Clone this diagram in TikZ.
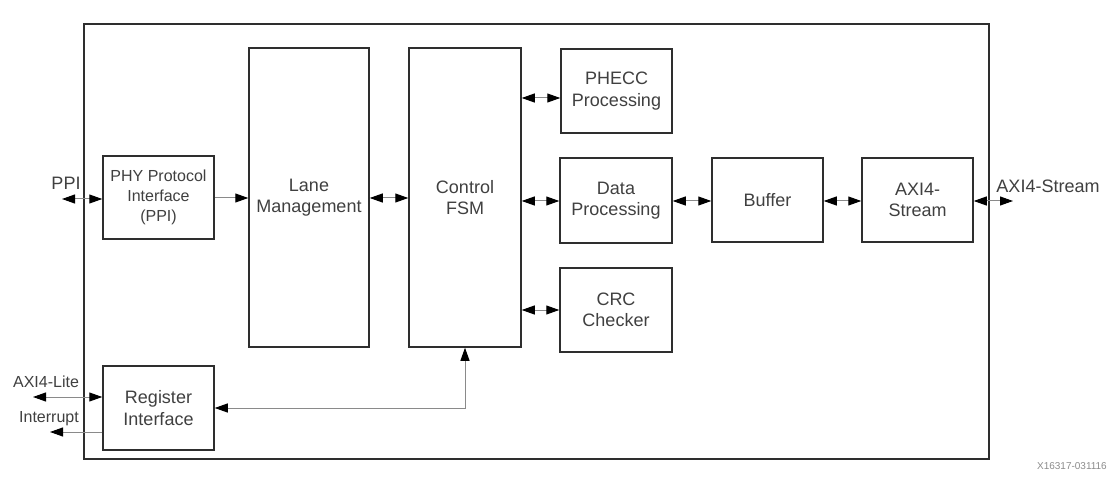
\documentclass[tikz,border=0pt]{standalone}
\usepackage{fontspec}
\setmainfont{Liberation Sans}
\usetikzlibrary{arrows.meta}
\definecolor{boxc}{HTML}{2E2E2E}
\definecolor{txtc}{HTML}{404040}
\definecolor{linec}{HTML}{8A8A8A}
\definecolor{footc}{HTML}{8C8C8C}
\begin{document}
\begin{tikzpicture}[x=1pt,y=-1pt,
  blk/.style={draw=boxc, line width=1.5pt, fill=white, inner sep=0pt, align=center,
    text=txtc, font=\fontsize{18}{21.5}\selectfont},
  smallblk/.style={blk, font=\fontsize{16}{20}\selectfont},
  lbl/.style={text=txtc, inner sep=0pt, font=\fontsize{18}{21}\selectfont},
  smalllbl/.style={text=txtc, inner sep=0pt, font=\fontsize{16}{19}\selectfont},
  conn/.style={draw=linec, line width=1pt,
    {Triangle[length=13pt,width=9pt,color=black]}-{Triangle[length=13pt,width=9pt,color=black]}},
  connr/.style={draw=linec, line width=1pt, -{Triangle[length=13pt,width=9pt,color=black]}},
  ]
\useasboundingbox (0,0) rectangle (1109,481);
\fill[white] (0,0) rectangle (1109,481);
% outer box
\node[draw=boxc, line width=1.5pt, minimum width=905pt, minimum height=435pt, inner sep=0pt] (outer) at (536.5,241.5) {};
% blocks
\node[smallblk, minimum width=111pt, minimum height=83pt] (ppi) at (158.5,197.5) {PHY Protocol\\Interface\\(PPI)};
\node[blk, minimum width=120pt, minimum height=299pt] (lane) at (309,197.5) {Lane\\Management};
\node[blk, minimum width=112pt, minimum height=299pt] (fsm) at (465,197.5) {Control\\FSM};
\node[blk, minimum width=111pt, minimum height=84pt] (phecc) at (616.5,91) {PHECC\\Processing};
\node[blk, minimum width=112pt, minimum height=85pt] (data) at (616,200.5) {Data\\Processing};
\node[blk, minimum width=112pt, minimum height=84pt] (crc) at (616,310) {CRC\\Checker};
\node[blk, minimum width=111pt, minimum height=84pt] (buf) at (767.5,200) {Buffer};
\node[blk, minimum width=111pt, minimum height=84pt] (axis) at (917.5,200) {AXI4-\\Stream};
\node[blk, minimum width=111pt, minimum height=84pt] (reg) at (158.5,408) {Register\\Interface};
% external coordinates
\coordinate (ppiext) at (62,199);
\coordinate (axiliteext) at (33,397);
\coordinate (intext) at (50,432);
\coordinate (axisext) at (1013,201);
% labels
\node[lbl] (ppilbl) at (66,183) {PPI};
\node[lbl] (axislbl) at (1048,186) {AXI4-Stream};
\node[smalllbl] (axilitelbl) at (46,382) {AXI4-Lite};
\node[smalllbl] (intlbl) at (49,419) {Interrupt};
\node[text=footc, inner sep=0pt, anchor=east, font=\fontsize{10}{12}\selectfont] (foot) at (1107,466) {X16317-031116};
% connectors
\draw[conn] (ppiext) -- (ppi.west |- ppiext);
\draw[connr] (ppi.east |- 0,198) -- (lane.west |- 0,198);
\draw[conn] (lane.east |- 0,198) -- (fsm.west |- 0,198);
\draw[conn] (fsm.east |- 0,98) -- (phecc.west |- 0,98);
\draw[conn] (fsm.east |- 0,201) -- (data.west |- 0,201);
\draw[conn] (fsm.east |- crc.west) -- (crc.west);
\draw[conn] (data.east |- 0,201) -- (buf.west |- 0,201);
\draw[conn] (buf.east |- 0,201) -- (axis.west |- 0,201);
\draw[conn] (axis.east |- axisext) -- (axisext);
\draw[conn] (axiliteext) -- (reg.west |- axiliteext);
\draw[connr] (reg.west |- intext) -- (intext);
\draw[conn] (fsm.south) |- (reg.east);
\end{tikzpicture}
\end{document}
